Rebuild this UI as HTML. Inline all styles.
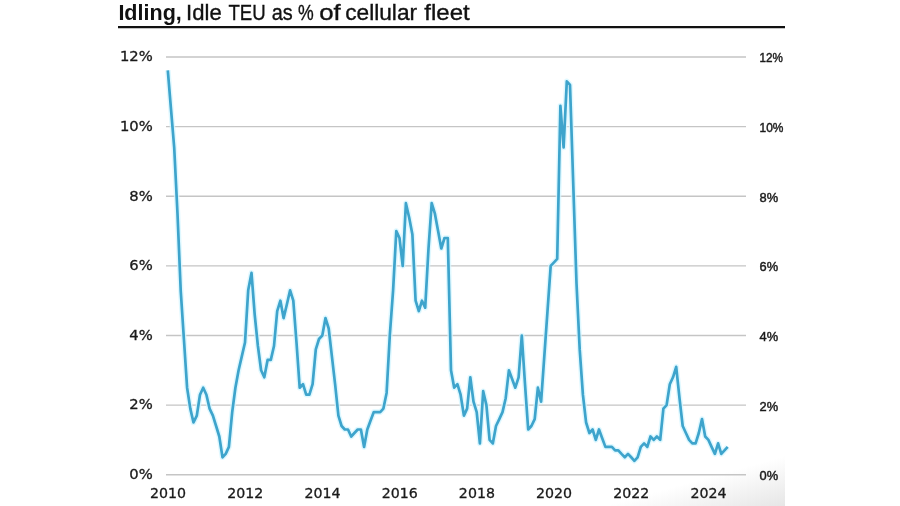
<!DOCTYPE html>
<html lang="en">
<head>
<meta charset="utf-8">
<title>Idling, Idle TEU as % of cellular fleet</title>
<style>
html,body{margin:0;padding:0;background:#fff;}
body{width:900px;height:506px;overflow:hidden;position:relative;font-family:"Liberation Sans",sans-serif;}
#shade{position:absolute;left:605px;top:456px;width:180px;height:50px;background:linear-gradient(to bottom right,rgba(255,255,255,1) 50%,#e6e6e6 100%);}
#rule{position:absolute;left:118px;top:26px;width:667px;height:2px;background:#111;box-shadow:0 1px 0 rgba(17,17,17,0.25);}
svg{position:absolute;left:0;top:0;}
.title{font-family:"Liberation Sans",sans-serif;font-size:22px;fill:#111;}
.grid line{stroke:#c5c5c5;stroke-width:1.4;}
.left text{font-family:"DejaVu Sans","Liberation Sans",sans-serif;font-size:13.7px;fill:#1a1a1a;text-anchor:end;stroke:#1a1a1a;stroke-width:0.3px;}
.right text{font-family:"Liberation Sans",sans-serif;font-size:13.2px;fill:#1a1a1a;text-anchor:start;stroke:#1a1a1a;stroke-width:0.45px;}
.years text{font-family:"DejaVu Sans","Liberation Sans",sans-serif;font-size:13.7px;fill:#1a1a1a;text-anchor:middle;stroke:#1a1a1a;stroke-width:0.3px;}
.halo{fill:none;stroke:#d4f5ff;stroke-width:5.6;stroke-linejoin:round;stroke-linecap:butt;opacity:0.75;}
.series{fill:none;stroke:#3ea4cc;stroke-width:2.7;stroke-linejoin:round;stroke-linecap:butt;}
</style>
</head>
<body>
<div id="shade"></div>
<div id="rule"></div>
<svg width="900" height="506" viewBox="0 0 900 506">
<text class="title" y="20.4"><tspan x="118.4" textLength="63.4" lengthAdjust="spacingAndGlyphs" font-weight="700">Idling,</tspan> <tspan x="186.1" textLength="35.6" lengthAdjust="spacingAndGlyphs" font-weight="400" stroke="#111" stroke-width="0.35">Idle</tspan> <tspan x="228.5" textLength="37.2" lengthAdjust="spacingAndGlyphs" font-weight="400" stroke="#111" stroke-width="0.35">TEU</tspan> <tspan x="271.7" textLength="21.0" lengthAdjust="spacingAndGlyphs" font-weight="400" stroke="#111" stroke-width="0.35">as</tspan> <tspan x="298.0" textLength="15.7" lengthAdjust="spacingAndGlyphs" font-weight="400" stroke="#111" stroke-width="0.35">%</tspan> <tspan x="319.3" textLength="21.5" lengthAdjust="spacingAndGlyphs" font-weight="400" stroke="#111" stroke-width="0.35">of</tspan> <tspan x="345.2" textLength="71.9" lengthAdjust="spacingAndGlyphs" font-weight="400" stroke="#111" stroke-width="0.35">cellular</tspan> <tspan x="424.3" textLength="45.4" lengthAdjust="spacingAndGlyphs" font-weight="400" stroke="#111" stroke-width="0.35">fleet</tspan></text>
<g class="grid">
<line x1="166" y1="474.8" x2="746" y2="474.8"/>
<line x1="166" y1="405.1" x2="746" y2="405.1"/>
<line x1="166" y1="335.5" x2="746" y2="335.5"/>
<line x1="166" y1="265.9" x2="746" y2="265.9"/>
<line x1="166" y1="196.3" x2="746" y2="196.3"/>
<line x1="166" y1="126.6" x2="746" y2="126.6"/>
<line x1="166" y1="57.0" x2="746" y2="57.0"/>
</g>
<g class="left">
<text transform="translate(152.8,479.1) scale(1.08,1.0)">0%</text>
<text transform="translate(152.8,409.4) scale(1.08,1.0)">2%</text>
<text transform="translate(152.8,339.8) scale(1.08,1.0)">4%</text>
<text transform="translate(152.8,270.2) scale(1.08,1.0)">6%</text>
<text transform="translate(152.8,200.6) scale(1.08,1.0)">8%</text>
<text transform="translate(152.8,130.9) scale(1.08,1.0)">10%</text>
<text transform="translate(152.8,61.3) scale(1.08,1.0)">12%</text>
</g>
<g class="right">
<text transform="translate(759.5,480.1) scale(0.975,1)">0%</text>
<text transform="translate(759.5,410.5) scale(0.975,1)">2%</text>
<text transform="translate(759.5,340.9) scale(0.975,1)">4%</text>
<text transform="translate(759.5,271.3) scale(0.975,1)">6%</text>
<text transform="translate(759.5,201.7) scale(0.975,1)">8%</text>
<text transform="translate(759.5,132.0) scale(0.905,1)">10%</text>
<text transform="translate(759.5,62.4) scale(0.885,1)">12%</text>
</g>
<g class="years">
<text transform="translate(168.1,498.1) scale(1.035,1)">2010</text>
<text transform="translate(245.3,498.1) scale(1.035,1)">2012</text>
<text transform="translate(322.5,498.1) scale(1.035,1)">2014</text>
<text transform="translate(399.7,498.1) scale(1.035,1)">2016</text>
<text transform="translate(476.9,498.1) scale(1.035,1)">2018</text>
<text transform="translate(554.1,498.1) scale(1.035,1)">2020</text>
<text transform="translate(631.3,498.1) scale(1.035,1)">2022</text>
<text transform="translate(708.5,498.1) scale(1.035,1)">2024</text>
</g>
<polyline class="halo" points="167.8,70.3 171.0,109.2 174.2,147.5 177.5,213.7 180.7,290.3 183.9,339.0 187.1,387.7 190.3,408.6 193.5,422.5 196.8,415.6 200.0,394.7 203.2,387.7 206.4,394.7 209.6,408.6 212.9,415.6 216.1,426.0 219.3,436.5 222.5,457.3 225.7,453.9 228.9,446.9 232.2,412.1 235.4,387.7 238.6,370.3 241.8,356.4 245.0,342.5 248.2,290.3 251.5,272.9 254.7,314.6 257.9,346.0 261.1,370.3 264.3,377.3 267.6,359.9 270.8,359.9 274.0,346.0 277.2,311.1 280.4,300.7 283.6,318.1 286.9,304.2 290.1,290.3 293.3,300.7 296.5,342.5 299.7,387.7 303.0,384.2 306.2,394.7 309.4,394.7 312.6,384.2 315.8,349.4 319.0,339.0 322.3,335.5 325.5,318.1 328.7,328.5 331.9,356.4 335.1,384.2 338.4,415.6 341.6,426.0 344.8,429.5 348.0,429.5 351.2,436.5 354.4,433.0 357.7,429.5 360.9,429.5 364.1,446.9 367.3,429.5 370.5,420.8 373.8,412.1 377.0,412.1 380.2,412.1 383.4,408.6 386.6,392.9 389.8,335.5 393.1,290.3 396.3,231.1 399.5,238.0 402.7,265.9 405.9,203.2 409.1,217.2 412.4,234.6 415.6,300.7 418.8,311.1 422.0,300.7 425.2,307.7 428.5,248.5 431.7,203.2 434.9,213.7 438.1,231.1 441.3,248.5 444.5,238.0 447.8,238.0 451.0,370.3 454.2,387.7 457.4,384.2 460.6,394.7 463.9,415.6 467.1,408.6 470.3,377.3 473.5,401.6 476.7,412.1 479.9,443.4 483.2,391.2 486.4,405.1 489.6,439.9 492.8,443.4 496.0,426.0 499.3,419.1 502.5,412.1 505.7,398.2 508.9,370.3 512.1,379.0 515.3,387.7 518.6,377.3 521.8,335.5 525.0,384.2 528.2,429.5 531.4,426.0 534.7,419.1 537.9,387.7 541.1,401.6 544.3,356.4 547.5,311.1 550.7,265.9 554.0,262.4 557.2,258.9 560.4,105.8 563.6,147.5 566.8,81.4 570.0,84.9 573.3,185.8 576.5,283.3 579.7,349.4 582.9,394.7 586.1,422.5 589.4,433.0 592.6,429.5 595.8,439.9 599.0,429.5 602.2,438.2 605.4,446.9 608.7,446.9 611.9,446.9 615.1,450.4 618.3,450.4 621.5,453.9 624.8,457.3 628.0,453.9 631.2,457.3 634.4,460.8 637.6,457.3 640.8,446.9 644.1,443.4 647.3,446.9 650.5,436.5 653.7,439.9 656.9,436.5 660.2,439.9 663.4,408.6 666.6,405.1 669.8,384.2 673.0,377.3 676.2,366.8 679.5,398.2 682.7,426.0 685.9,433.0 689.1,439.9 692.3,443.4 695.6,443.4 698.8,433.0 702.0,419.1 705.2,436.5 708.4,439.9 711.6,446.9 714.9,453.9 718.1,443.4 721.3,453.9 724.5,450.4 727.7,446.9"/>
<polyline class="series" points="167.8,70.3 171.0,109.2 174.2,147.5 177.5,213.7 180.7,290.3 183.9,339.0 187.1,387.7 190.3,408.6 193.5,422.5 196.8,415.6 200.0,394.7 203.2,387.7 206.4,394.7 209.6,408.6 212.9,415.6 216.1,426.0 219.3,436.5 222.5,457.3 225.7,453.9 228.9,446.9 232.2,412.1 235.4,387.7 238.6,370.3 241.8,356.4 245.0,342.5 248.2,290.3 251.5,272.9 254.7,314.6 257.9,346.0 261.1,370.3 264.3,377.3 267.6,359.9 270.8,359.9 274.0,346.0 277.2,311.1 280.4,300.7 283.6,318.1 286.9,304.2 290.1,290.3 293.3,300.7 296.5,342.5 299.7,387.7 303.0,384.2 306.2,394.7 309.4,394.7 312.6,384.2 315.8,349.4 319.0,339.0 322.3,335.5 325.5,318.1 328.7,328.5 331.9,356.4 335.1,384.2 338.4,415.6 341.6,426.0 344.8,429.5 348.0,429.5 351.2,436.5 354.4,433.0 357.7,429.5 360.9,429.5 364.1,446.9 367.3,429.5 370.5,420.8 373.8,412.1 377.0,412.1 380.2,412.1 383.4,408.6 386.6,392.9 389.8,335.5 393.1,290.3 396.3,231.1 399.5,238.0 402.7,265.9 405.9,203.2 409.1,217.2 412.4,234.6 415.6,300.7 418.8,311.1 422.0,300.7 425.2,307.7 428.5,248.5 431.7,203.2 434.9,213.7 438.1,231.1 441.3,248.5 444.5,238.0 447.8,238.0 451.0,370.3 454.2,387.7 457.4,384.2 460.6,394.7 463.9,415.6 467.1,408.6 470.3,377.3 473.5,401.6 476.7,412.1 479.9,443.4 483.2,391.2 486.4,405.1 489.6,439.9 492.8,443.4 496.0,426.0 499.3,419.1 502.5,412.1 505.7,398.2 508.9,370.3 512.1,379.0 515.3,387.7 518.6,377.3 521.8,335.5 525.0,384.2 528.2,429.5 531.4,426.0 534.7,419.1 537.9,387.7 541.1,401.6 544.3,356.4 547.5,311.1 550.7,265.9 554.0,262.4 557.2,258.9 560.4,105.8 563.6,147.5 566.8,81.4 570.0,84.9 573.3,185.8 576.5,283.3 579.7,349.4 582.9,394.7 586.1,422.5 589.4,433.0 592.6,429.5 595.8,439.9 599.0,429.5 602.2,438.2 605.4,446.9 608.7,446.9 611.9,446.9 615.1,450.4 618.3,450.4 621.5,453.9 624.8,457.3 628.0,453.9 631.2,457.3 634.4,460.8 637.6,457.3 640.8,446.9 644.1,443.4 647.3,446.9 650.5,436.5 653.7,439.9 656.9,436.5 660.2,439.9 663.4,408.6 666.6,405.1 669.8,384.2 673.0,377.3 676.2,366.8 679.5,398.2 682.7,426.0 685.9,433.0 689.1,439.9 692.3,443.4 695.6,443.4 698.8,433.0 702.0,419.1 705.2,436.5 708.4,439.9 711.6,446.9 714.9,453.9 718.1,443.4 721.3,453.9 724.5,450.4 727.7,446.9"/>
</svg>
</body>
</html>
